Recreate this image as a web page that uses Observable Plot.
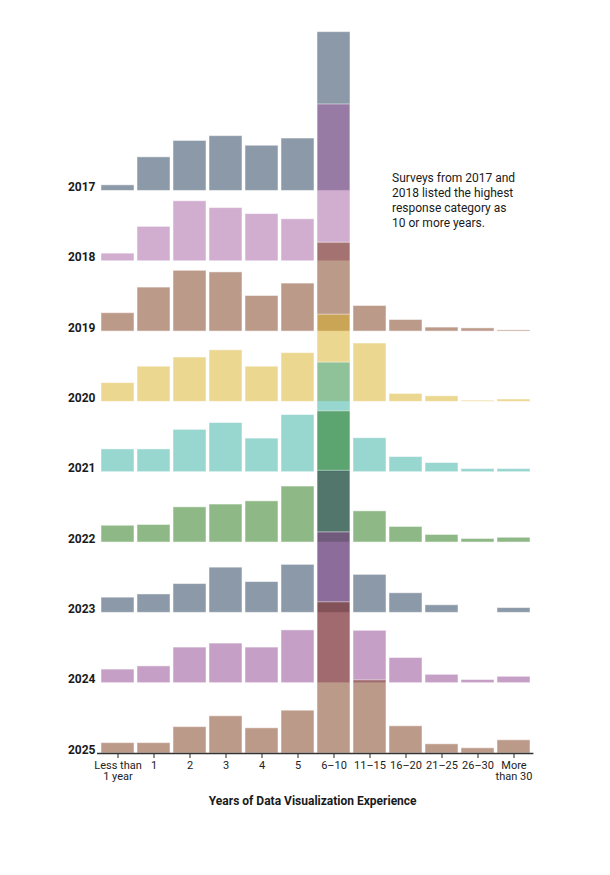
<!DOCTYPE html>
<html>
<head>
<meta charset="utf-8">
<script src="https://cdn.jsdelivr.net/npm/d3@7"></script>
<script src="https://cdn.jsdelivr.net/npm/@observablehq/plot@0.6"></script>
<style>
  body { margin: 0; background: #fff; }
  #chart svg { display: block; }
</style>
</head>
<body>
<div id="chart"></div>
<script>
// ---- Data (share of respondents, %) ----
const categories = ["Less than 1 year", "1", "2", "3", "4", "5", "6–10", "11–15", "16–20", "21–25", "26–30", "More than 30"];
const tickLabels = ["Less than\n1 year", "1", "2", "3", "4", "5", "6–10", "11–15", "16–20", "21–25", "26–30", "More\nthan 30"];
const years = [2017, 2018, 2019, 2020, 2021, 2022, 2023, 2024, 2025];

const v2017 = [1.4, 8.4, 12.5, 13.7, 11.3, 13.1, 39.7, null, null, null, null, null];
const v2018 = [1.9, 8.6, 15.0, 13.3, 11.8, 10.5, 39.2, null, null, null, null, null];
const v2019 = [4.6, 11.0, 15.2, 14.8, 8.9, 12.0, 22.2, 6.4, 2.9, 1.0, 0.8, 0.3];
const v2020 = [4.7, 8.8, 11.1, 12.9, 8.8, 12.2, 21.8, 14.6, 2.0, 1.4, 0.3, 0.6];
const v2021 = [5.7, 5.7, 10.6, 12.3, 8.4, 14.3, 27.4, 8.5, 3.8, 2.3, 0.8, 0.8];
const v2022 = [4.2, 4.4, 8.8, 9.5, 10.3, 14.0, 32.8, 7.8, 3.9, 1.9, 0.9, 1.2];
const v2023 = [3.8, 4.6, 7.2, 11.3, 7.7, 12.0, 35.5, 9.5, 4.9, 1.9, 0.0, 1.2];
const v2024 = [3.4, 4.2, 8.9, 9.9, 8.9, 13.2, 37.7, 13.1, 6.3, 2.1, 0.8, 1.6];
const v2025 = [2.6, 2.6, 6.6, 9.3, 6.3, 10.7, 37.8, 18.3, 6.8, 2.3, 1.3, 3.3];
const seriesValues = [v2017, v2018, v2019, v2020, v2021, v2022, v2023, v2024, v2025];

const yearColors = ["#173351", "#a35d9f", "#793515", "#d9af21", "#31ada1", "#1f710f", "#173351", "#8d3f8d", "#793515"];

const note = "Surveys from 2017 and\n2018 listed the highest\nresponse category as\n10 or more years.";
const xTitle = "Years of Data Visualization Experience";

// ---- Layout ----
const W = 610, H = 875;
const marginLeft = 97, marginRight = 76.6, marginTop = 20, marginBottom = 122;
const pxPerUnit = 4;
const yMax = (H - marginBottom - marginTop) / pxPerUnit;
const rowStep = 17.58; // vertical offset between ridge rows, in value units
const rowBase = i => (years.length - 1 - i) * rowStep;

const bars = years.flatMap((year, i) =>
  categories.map((cat, j) => ({year, cat, value: seriesValues[i][j], base: rowBase(i)}))
).filter(d => d.value != null);

const yearLabels = years.map((year, i) => ({year, base: rowBase(i)}));

const chart = Plot.plot({
  width: W,
  height: H,
  marginLeft, marginRight, marginTop, marginBottom,
  style: {fontFamily: "Roboto, sans-serif", fontSize: "11px", color: "#222", background: "#fff"},
  x: {
    domain: categories,
    paddingInner: 0.08,
    paddingOuter: 0.04,
    tickSize: 5,
    tickPadding: 3,
    tickFormat: d => tickLabels[categories.indexOf(d)],
    label: null
  },
  y: {domain: [0, yMax], axis: null},
  color: {type: "ordinal", domain: years, range: yearColors},
  marks: [
    Plot.barY(bars, {
      x: "cat",
      y1: "base",
      y2: d => d.base + d.value,
      fill: "year",
      fillOpacity: 0.5,
      stroke: "white",
      strokeOpacity: 0.5,
      strokeWidth: 1
    }),
    Plot.ruleY([0], {stroke: "#333", strokeWidth: 1.5}),
    Plot.text(yearLabels, {
      y: "base",
      text: d => String(d.year),
      frameAnchor: "left",
      dx: -2,
      textAnchor: "end",
      lineAnchor: "bottom",
      fontWeight: "bold",
      fontSize: 12,
      fill: "#1a1a1a"
    }),
    Plot.text([{cat: "6–10", base: rowBase(0), text: note}], {
      x: "cat",
      y: "base",
      text: "text",
      dx: 58,
      dy: -20,
      textAnchor: "start",
      lineAnchor: "top",
      lineHeight: 1.27,
      fontSize: 12,
      fill: "#1a1a1a"
    }),
    Plot.text([xTitle], {
      text: d => d,
      frameAnchor: "bottom",
      dx: -3,
      dy: 51,
      lineAnchor: "bottom",
      fontWeight: "bold",
      fontSize: 12,
      fill: "#1a1a1a"
    })
  ]
});

document.getElementById("chart").appendChild(chart);
</script>
</body>
</html>
